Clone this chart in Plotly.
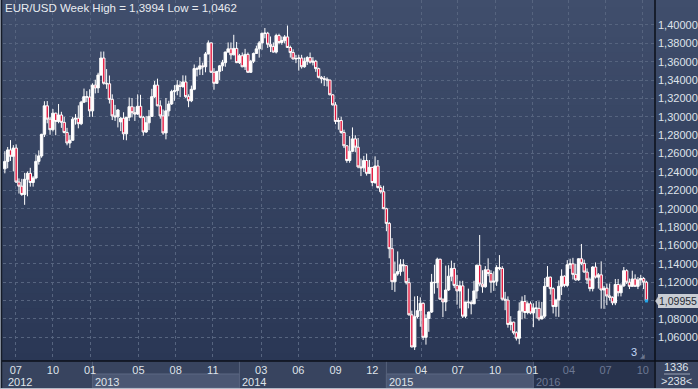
import plotly.graph_objects as go
import pandas as pd

# ---------------- data ----------------
title_text = "EUR/USD Week High = 1,3994 Low = 1,0462"
first_week = "2012-06-04"

opens = [
    # 2012
    1.2434, 1.2515, 1.2640, 1.2570, 1.2660, 1.2290, 1.2245, 1.2155, 1.2320, 1.2385, 1.2285, 1.2335, 1.2515, 1.2575,
    1.2810, 1.3120, 1.2975, 1.2860, 1.3040, 1.2950, 1.3020, 1.2940, 1.2830, 1.2715, 1.2745, 1.2975, 1.2985, 1.2925,
    1.3160, 1.3220, 1.3215,
    # 2013
    1.3065, 1.3345, 1.3315, 1.3455, 1.3640, 1.3365, 1.3360, 1.3190, 1.3010, 1.3000, 1.2945, 1.2985, 1.2815, 1.2995,
    1.3110, 1.3045, 1.3030, 1.3115, 1.2995, 1.2835, 1.2935, 1.3005, 1.3220, 1.3345, 1.3120, 1.3010, 1.2825, 1.3065,
    1.3140, 1.3275, 1.3285, 1.3345, 1.3330, 1.3380, 1.3220, 1.3175, 1.3300, 1.3525, 1.3520, 1.3555, 1.3545, 1.3685,
    1.3805, 1.3485, 1.3365, 1.3495, 1.3555, 1.3590, 1.3705, 1.3740, 1.3675, 1.3745,
    # 2014
    1.3590, 1.3665, 1.3545, 1.3680, 1.3485, 1.3605, 1.3690, 1.3740, 1.3805, 1.3910, 1.3910, 1.3790, 1.3765, 1.3705,
    1.3885, 1.3810, 1.3830, 1.3870, 1.3755, 1.3700, 1.3630, 1.3635, 1.3640, 1.3545, 1.3605, 1.3645, 1.3595, 1.3605,
    1.3525, 1.3430, 1.3415, 1.3410, 1.3400, 1.3240, 1.3130, 1.2950, 1.2960, 1.2830, 1.2685, 1.2525, 1.2625, 1.2760,
    1.2670, 1.2455, 1.2445, 1.2525, 1.2385, 1.2450, 1.2285, 1.2465, 1.2230, 1.2185,
    # 2015
    1.2000, 1.1840, 1.1565, 1.1205, 1.1290, 1.1315, 1.1390, 1.1380, 1.1195, 1.0845, 1.0495, 1.0825, 1.0890, 1.0970,
    1.0600, 1.0805, 1.0875, 1.1200, 1.1195, 1.1450, 1.1015, 1.0985, 1.1115, 1.1265, 1.1350, 1.1165, 1.1105, 1.1160,
    1.0830, 1.0985, 1.0980, 1.0965, 1.1105, 1.1385, 1.1180, 1.1150, 1.1335, 1.1295, 1.1200, 1.1210, 1.1360, 1.1350,
    1.1015, 1.1005, 1.0740, 1.0765, 1.0650, 1.0590, 1.0885, 1.0990, 1.0870, 1.0965,
    # 2016
    1.0865, 1.0920, 1.0915, 1.0800, 1.0830, 1.1155, 1.1255, 1.1130, 1.0935, 1.1005, 1.1155, 1.1265, 1.1165, 1.1390,
    1.1400, 1.1285, 1.1225, 1.1455, 1.1405, 1.1310, 1.1225, 1.1130, 1.1365, 1.1255, 1.1280, 1.1115, 1.1135, 1.1050,
    1.1035, 1.0975, 1.1175, 1.1085, 1.1160, 1.1325, 1.1200, 1.1155, 1.1235, 1.1155, 1.1225, 1.1240, 1.1200,
]
highs = [
    # 2012
    1.2626, 1.2672, 1.2747, 1.2692, 1.2700, 1.2330, 1.2325, 1.2390, 1.2405, 1.2445, 1.2355, 1.2590, 1.2635, 1.2815,
    1.3170, 1.3172, 1.3000, 1.3085, 1.3045, 1.3140, 1.3055, 1.3000, 1.2880, 1.2800, 1.3000, 1.3030, 1.3125, 1.3175,
    1.3308, 1.3280, 1.3300,
    # 2013
    1.3365, 1.3404, 1.3480, 1.3710, 1.3711, 1.3520, 1.3450, 1.3245, 1.3130, 1.3085, 1.3000, 1.3050, 1.3000, 1.3210,
    1.3205, 1.3110, 1.3245, 1.3240, 1.3010, 1.3010, 1.3075, 1.3305, 1.3390, 1.3416, 1.3180, 1.3080, 1.3205, 1.3175,
    1.3295, 1.3345, 1.3400, 1.3390, 1.3452, 1.3450, 1.3245, 1.3340, 1.3570, 1.3545, 1.3650, 1.3590, 1.3705, 1.3832,
    1.3810, 1.3530, 1.3500, 1.3565, 1.3620, 1.3710, 1.3810, 1.3810, 1.3893, 1.3815,
    # 2014
    1.3685, 1.3700, 1.3740, 1.3700, 1.3620, 1.3700, 1.3775, 1.3825, 1.3915, 1.3967, 1.3925, 1.3875, 1.3810, 1.3905,
    1.3905, 1.3875, 1.3890, 1.3994, 1.3775, 1.3735, 1.3675, 1.3675, 1.3675, 1.3645, 1.3660, 1.3700, 1.3650, 1.3620,
    1.3535, 1.3445, 1.3445, 1.3430, 1.3405, 1.3245, 1.3160, 1.2990, 1.3000, 1.2860, 1.2690, 1.2790, 1.2885, 1.2800,
    1.2770, 1.2545, 1.2575, 1.2600, 1.2530, 1.2455, 1.2570, 1.2530, 1.2255, 1.2250,
    # 2015
    1.2010, 1.1855, 1.1680, 1.1425, 1.1535, 1.1450, 1.1450, 1.1385, 1.1245, 1.0890, 1.1045, 1.1050, 1.1035, 1.0980,
    1.0850, 1.0880, 1.1290, 1.1390, 1.1467, 1.1455, 1.1020, 1.1380, 1.1385, 1.1435, 1.1410, 1.1280, 1.1215, 1.1215,
    1.0985, 1.1130, 1.1000, 1.1215, 1.1390, 1.1714, 1.1330, 1.1375, 1.1460, 1.1330, 1.1318, 1.1385, 1.1495, 1.1375,
    1.1095, 1.1045, 1.0830, 1.0770, 1.0665, 1.0980, 1.1045, 1.1060, 1.0990, 1.0990,
    # 2016
    1.0970, 1.0995, 1.0990, 1.0985, 1.1245, 1.1376, 1.1260, 1.1145, 1.1020, 1.1220, 1.1340, 1.1275, 1.1440, 1.1455,
    1.1465, 1.1398, 1.1460, 1.1616, 1.1445, 1.1350, 1.1250, 1.1375, 1.1415, 1.1300, 1.1427, 1.1160, 1.1185, 1.1185,
    1.1045, 1.1235, 1.1235, 1.1185, 1.1365, 1.1340, 1.1240, 1.1325, 1.1285, 1.1255, 1.1280, 1.1255, 1.1215,
]
lows = [
    # 2012
    1.2385, 1.2440, 1.2520, 1.2406, 1.2280, 1.2165, 1.2140, 1.2042, 1.2135, 1.2240, 1.2240, 1.2320, 1.2480, 1.2555,
    1.2780, 1.2930, 1.2805, 1.2840, 1.2800, 1.2930, 1.2880, 1.2820, 1.2690, 1.2661, 1.2740, 1.2915, 1.2875, 1.2910,
    1.3150, 1.3160, 1.3000,
    # 2013
    1.3000, 1.3255, 1.3260, 1.3450, 1.3350, 1.3305, 1.3145, 1.2965, 1.2955, 1.2885, 1.2845, 1.2750, 1.2745, 1.2955,
    1.2995, 1.2955, 1.3020, 1.2985, 1.2795, 1.2825, 1.2855, 1.3000, 1.3205, 1.3115, 1.2980, 1.2805, 1.2755, 1.3005,
    1.3130, 1.3175, 1.3235, 1.3215, 1.3315, 1.3205, 1.3105, 1.3160, 1.3290, 1.3440, 1.3455, 1.3455, 1.3485, 1.3680,
    1.3480, 1.3295, 1.3360, 1.3400, 1.3500, 1.3545, 1.3700, 1.3625, 1.3670, 1.3585,
    # 2014
    1.3575, 1.3540, 1.3510, 1.3480, 1.3477, 1.3585, 1.3685, 1.3645, 1.3730, 1.3855, 1.3750, 1.3705, 1.3700, 1.3690,
    1.3790, 1.3785, 1.3800, 1.3750, 1.3645, 1.3625, 1.3585, 1.3503, 1.3525, 1.3535, 1.3565, 1.3580, 1.3560, 1.3490,
    1.3420, 1.3365, 1.3335, 1.3330, 1.3235, 1.3125, 1.2920, 1.2860, 1.2815, 1.2660, 1.2500, 1.2500, 1.2615, 1.2615,
    1.2440, 1.2355, 1.2400, 1.2360, 1.2380, 1.2245, 1.2270, 1.2220, 1.2165, 1.1995,
    # 2015
    1.1755, 1.1460, 1.1115, 1.1095, 1.1270, 1.1270, 1.1315, 1.1175, 1.0835, 1.0490, 1.0462, 1.0805, 1.0715, 1.0570,
    1.0520, 1.0660, 1.0865, 1.1075, 1.1135, 1.1010, 1.0820, 1.0885, 1.1105, 1.1210, 1.1135, 1.0955, 1.0915, 1.0810,
    1.0810, 1.0915, 1.0850, 1.0960, 1.1020, 1.1155, 1.1085, 1.1140, 1.1265, 1.1085, 1.1105, 1.1160, 1.1330, 1.1000,
    1.0895, 1.0705, 1.0675, 1.0630, 1.0565, 1.0524, 1.0795, 1.0805, 1.0850, 1.0850,
    # 2016
    1.0710, 1.0805, 1.0780, 1.0795, 1.0810, 1.1150, 1.1065, 1.0860, 1.0825, 1.0822, 1.1060, 1.1145, 1.1145, 1.1345,
    1.1230, 1.1215, 1.1215, 1.1385, 1.1305, 1.1180, 1.1100, 1.1100, 1.1240, 1.1130, 1.0912, 1.0910, 1.0950, 1.1000,
    1.0950, 1.0950, 1.1045, 1.1045, 1.1150, 1.1180, 1.1125, 1.1150, 1.1150, 1.1125, 1.1165, 1.1125, 1.0985,
]
closes = [
    # 2012
    1.2515, 1.2640, 1.2570, 1.2660, 1.2290, 1.2245, 1.2155, 1.2320, 1.2385, 1.2285, 1.2335, 1.2515, 1.2575, 1.2810,
    1.3120, 1.2975, 1.2860, 1.3040, 1.2950, 1.3020, 1.2940, 1.2830, 1.2715, 1.2745, 1.2975, 1.2985, 1.2925, 1.3160,
    1.3220, 1.3215, 1.3065,
    # 2013
    1.3345, 1.3315, 1.3455, 1.3640, 1.3365, 1.3360, 1.3190, 1.3010, 1.3000, 1.3075, 1.2985, 1.2815, 1.2995, 1.3110,
    1.3045, 1.3030, 1.3115, 1.2995, 1.2835, 1.2935, 1.3005, 1.3220, 1.3345, 1.3120, 1.3010, 1.2825, 1.3065, 1.3140,
    1.3275, 1.3285, 1.3345, 1.3330, 1.3380, 1.3220, 1.3175, 1.3300, 1.3525, 1.3520, 1.3555, 1.3545, 1.3685, 1.3805,
    1.3485, 1.3365, 1.3495, 1.3555, 1.3590, 1.3705, 1.3740, 1.3675, 1.3745, 1.3590,
    # 2014
    1.3665, 1.3545, 1.3680, 1.3485, 1.3605, 1.3690, 1.3740, 1.3805, 1.3910, 1.3910, 1.3790, 1.3765, 1.3705, 1.3885,
    1.3810, 1.3830, 1.3870, 1.3755, 1.3700, 1.3630, 1.3635, 1.3640, 1.3545, 1.3605, 1.3645, 1.3595, 1.3605, 1.3525,
    1.3430, 1.3415, 1.3410, 1.3400, 1.3240, 1.3130, 1.2950, 1.2960, 1.2830, 1.2685, 1.2525, 1.2625, 1.2760, 1.2670,
    1.2455, 1.2445, 1.2525, 1.2385, 1.2450, 1.2285, 1.2465, 1.2230, 1.2185, 1.2000,
    # 2015
    1.1840, 1.1565, 1.1205, 1.1290, 1.1315, 1.1390, 1.1380, 1.1195, 1.0845, 1.0495, 1.0825, 1.0890, 1.0970, 1.0600,
    1.0805, 1.0875, 1.1200, 1.1195, 1.1450, 1.1015, 1.0985, 1.1115, 1.1265, 1.1350, 1.1165, 1.1105, 1.1160, 1.0830,
    1.0985, 1.0980, 1.0965, 1.1105, 1.1385, 1.1180, 1.1150, 1.1335, 1.1295, 1.1200, 1.1210, 1.1360, 1.1350, 1.1015,
    1.1005, 1.0740, 1.0765, 1.0650, 1.0590, 1.0885, 1.0990, 1.0870, 1.0965, 1.0865,
    # 2016
    1.0920, 1.0915, 1.0800, 1.0830, 1.1155, 1.1255, 1.1130, 1.0935, 1.1005, 1.1155, 1.1265, 1.1165, 1.1390, 1.1400,
    1.1285, 1.1225, 1.1455, 1.1405, 1.1310, 1.1225, 1.1130, 1.1365, 1.1255, 1.1280, 1.1115, 1.1135, 1.1050, 1.1035,
    1.0975, 1.1175, 1.1085, 1.1160, 1.1325, 1.1200, 1.1155, 1.1235, 1.1155, 1.1225, 1.1240, 1.1200, 1.09955,
]

price_ticks = [1.06, 1.08, 1.10, 1.12, 1.14, 1.16, 1.18, 1.20, 1.22, 1.24, 1.26, 1.28, 1.30, 1.32, 1.34, 1.36, 1.38, 1.40]
# the 1,10000 label is hidden behind the current-price tag in the reference
price_tick_labels = ["1,06000", "1,08000", "", "1,12000", "1,14000", "1,16000", "1,18000", "1,20000", "1,22000",
                     "1,24000", "1,26000", "1,28000", "1,30000", "1,32000", "1,34000", "1,36000", "1,38000", "1,40000"]
month_ticks = ["2012-07-01", "2012-10-01", "2013-01-01", "2013-05-01", "2013-08-01", "2013-11-01", "2014-03-01",
               "2014-06-01", "2014-09-01", "2014-12-01", "2015-04-01", "2015-07-01", "2015-10-01", "2016-01-01",
               "2016-04-01", "2016-07-01", "2016-10-01"]
month_labels = ["07", "10", "01", "05", "08", "11", "03", "06", "09", "12", "04", "07", "10", "01", "04", "07", "10"]
bars_total_label = "1336"
bars_visible_label = ">238<"
scroll_label = "3"

assert len(opens) == len(highs) == len(lows) == len(closes)
dates = pd.date_range(first_week, periods=len(closes), freq="W-MON")

# ---------------- geometry / style ----------------
W, H = 698, 389
ML, MR, MT, MB = 3, 44, 0, 28
PW, PH = W - ML - MR, H - MT - MB
FONT = "Liberation Sans Narrow, Arial Narrow, Liberation Sans, Arial, sans-serif"
x_range = ["2012-05-30 10:00", "2016-10-28 19:00"]
y_range = [1.0342, 1.4272]


def px(xp):
    return (xp - ML) / PW


def py(yp):
    return (H - MB - yp) / PH


years = sorted(set(d.year for d in dates))
year_first = {y: dates[[d.year == y for d in dates]][0] for y in years}
dim_from = year_first[years[-1]]

tick_text = []
for t, lab in zip(month_ticks, month_labels):
    if pd.Timestamp(t) > dim_from:
        tick_text.append("<span style='color:#6d7893'>%s</span>" % lab)
    else:
        tick_text.append(lab)

shapes = []
# background gradient
top_c, bot_c = (64, 78, 108), (42, 55, 85)
N = 48
for i in range(N):
    f = (i + 0.5) / N
    c = tuple(int(round(bot_c[k] + (top_c[k] - bot_c[k]) * f)) for k in range(3))
    shapes.append(dict(type="rect", xref="paper", yref="paper", x0=px(0), x1=px(W), y0=i / N, y1=(i + 1) / N + 0.002,
                       fillcolor="rgb(%d,%d,%d)" % c, line_width=0, layer="below"))
# bottom strip
shapes.append(dict(type="rect", xref="paper", yref="paper", x0=px(0), x1=px(655), y0=py(H), y1=py(361),
                   fillcolor="#38445f", line_width=0, layer="below"))
for i, y in enumerate(years):
    x0 = year_first[y]
    x1 = year_first[years[i + 1]] if i + 1 < len(years) else x_range[1]
    if y % 2 == 1 and y != years[-1]:
        shapes.append(dict(type="rect", xref="x", yref="paper", x0=x0, x1=x1, y0=py(388), y1=py(374),
                           fillcolor="#4b5773", line=dict(color="#5d6984", width=1), layer="below"))
    if y == years[-1]:
        shapes.append(dict(type="rect", xref="x", yref="paper", x0=x0, x1=x1, y0=py(388), y1=py(361.5),
                           fillcolor="#28334d", line_width=0, layer="below"))
    if i > 0:
        shapes.append(dict(type="line", xref="x", yref="paper", x0=x0, x1=x0, y0=py(389), y1=py(361),
                           line=dict(color="#56627c", width=1), layer="below"))
# corner box
shapes.append(dict(type="rect", xref="paper", yref="paper", x0=px(655), x1=px(W), y0=py(H), y1=py(361),
                   fillcolor="#3a4662", line_width=0, layer="below"))
shapes.append(dict(type="line", xref="paper", yref="paper", x0=px(664), x1=px(690), y0=py(374), y1=py(374),
                   line=dict(color="#9aa3b5", width=1)))
# black separator lines
shapes.append(dict(type="line", xref="paper", yref="paper", x0=px(0), x1=px(W), y0=py(361), y1=py(361),
                   line=dict(color="#0b0f18", width=1.5)))
shapes.append(dict(type="line", xref="paper", yref="paper", x0=px(655), x1=px(655), y0=py(H), y1=py(0),
                   line=dict(color="#0b0f18", width=1.5)))
# frame
shapes.append(dict(type="line", xref="paper", yref="paper", x0=px(0.5), x1=px(0.5), y0=py(H), y1=py(0),
                   line=dict(color="#a7afbd", width=1)))
shapes.append(dict(type="line", xref="paper", yref="paper", x0=px(1.5), x1=px(1.5), y0=py(388), y1=py(0),
                   line=dict(color="#161c28", width=1.5)))
shapes.append(dict(type="line", xref="paper", yref="paper", x0=px(0), x1=px(W), y0=py(388.5), y1=py(388.5),
                   line=dict(color="#b4bbc8", width=1)))
# price tag (box + arrow)
last = closes[-1]
last_label = ("%.5f" % last).replace(".", ",")
dp = 0.0058
shapes.append(dict(type="path", xref="paper", yref="y",
                   path="M %f,%f L %f,%f L %f,%f Z" % (px(655.5), last, px(659), last + dp, px(659), last - dp),
                   fillcolor="#c9cdd4", line=dict(color="#c9cdd4", width=0.5)))

annotations = [
    dict(text=title_text, xref="paper", yref="paper", x=px(3), y=py(8), xanchor="left", yanchor="middle",
         showarrow=False, font=dict(family=FONT, size=11.5, color="#e9ecf1")),
    dict(text=last_label, xref="paper", yref="y", x=px(658), y=last, xanchor="left", yanchor="middle",
         showarrow=False, font=dict(family=FONT, size=10.5, color="#262a33"), bgcolor="#c9cdd4",
         bordercolor="#c9cdd4", borderwidth=0, borderpad=1),
    dict(text=bars_total_label, xref="paper", yref="paper", x=px(676.5), y=py(367), xanchor="center",
         yanchor="middle", showarrow=False, font=dict(family=FONT, size=11, color="#dfe3ea")),
    dict(text=bars_visible_label, xref="paper", yref="paper", x=px(676.5), y=py(381), xanchor="center",
         yanchor="middle", showarrow=False, font=dict(family=FONT, size=11, color="#dfe3ea")),
    dict(text=scroll_label, xref="paper", yref="paper", x=px(634), y=py(352), xanchor="center",
         yanchor="middle", showarrow=False, font=dict(family=FONT, size=11, color="#c2d6f6")),
    dict(text="◢", xref="paper", yref="paper", x=px(642), y=py(355), xanchor="center",
         yanchor="middle", showarrow=False, font=dict(family="DejaVu Sans", size=6, color="#6c778f")),
]
for y in years:
    col = "#6d7893" if y == years[-1] else "#dfe3ea"
    annotations.append(dict(text=str(y), xref="x", yref="paper", x=year_first[y], y=py(381.5), xanchor="left",
                            yanchor="middle", xshift=1, showarrow=False, font=dict(family=FONT, size=11, color=col)))

fig = go.Figure()
fig.add_trace(go.Candlestick(
    x=dates, open=opens, high=highs, low=lows, close=closes,
    increasing=dict(line=dict(color="#ffffff", width=1), fillcolor="#ffffff"),
    decreasing=dict(line=dict(color="#ffffff", width=1), fillcolor="#e3173e"),
    whiskerwidth=0, hoverinfo="skip", showlegend=False,
))
fig.add_trace(go.Scatter(x=[dates[-1]], y=[last], mode="markers", hoverinfo="skip", showlegend=False,
                         marker=dict(size=3, color="#22a6ea", symbol="square")))

fig.update_layout(
    width=W, height=H, margin=dict(l=ML, r=MR, t=MT, b=MB, pad=0),
    paper_bgcolor="#35425f", plot_bgcolor="rgba(0,0,0,0)",
    shapes=shapes, annotations=annotations, showlegend=False,
    boxgap=0.15, boxgroupgap=0,
    font=dict(family=FONT, size=11, color="#dfe3ea"),
    xaxis=dict(type="date", range=x_range, rangeslider=dict(visible=False), tickmode="array",
               tickvals=month_ticks, ticktext=tick_text, showgrid=True, gridcolor="#56647f", griddash="dot",
               gridwidth=1, ticks="", showline=False, zeroline=False, tickfont=dict(family=FONT, size=11,
                                                                                     color="#dfe3ea"),
               ticklabelstandoff=1, fixedrange=True),
    yaxis=dict(side="right", range=y_range, tickmode="array", tickvals=price_ticks, ticktext=price_tick_labels,
               showgrid=True, gridcolor="#56647f", griddash="dot", gridwidth=1, ticks="", showline=False,
               zeroline=False, tickfont=dict(family=FONT, size=11, color="#dfe3ea"), ticklabelstandoff=3,
               fixedrange=True),
)

fig.write_html("out.html", config={"displayModeBar": False},
               post_script="document.body.style.margin='0';document.body.style.overflow='hidden';")
